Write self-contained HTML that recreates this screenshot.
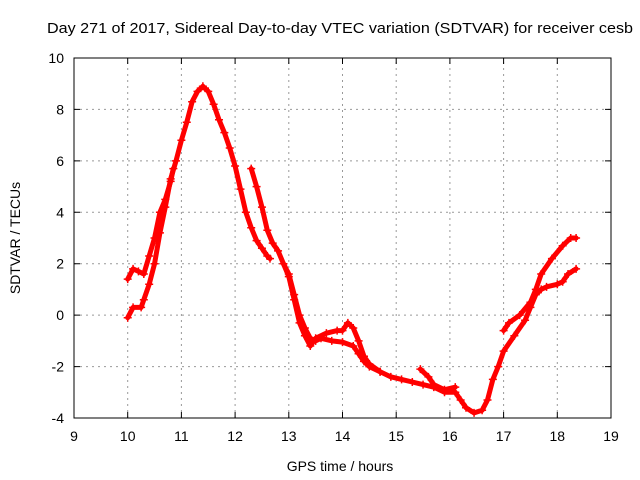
<!DOCTYPE html>
<html><head><meta charset="utf-8"><style>
body{margin:0;background:#fff}
svg{display:block;font-family:"Liberation Sans",sans-serif}
</style></head><body>
<svg id="chart" width="640" height="480">
<text x="47" y="33" font-size="15" textLength="586" lengthAdjust="spacingAndGlyphs">Day 271 of 2017, Sidereal Day-to-day VTEC variation (SDTVAR) for receiver cesb</text>
<text x="340" y="471" text-anchor="middle" font-size="14">GPS time / hours</text>
<text transform="translate(20,238) rotate(-90)" text-anchor="middle" font-size="14">SDTVAR / TECUs</text>
<g id="grid"></g><g id="ticks"></g><g id="series"></g>
<rect x="74" y="58" width="537" height="360" fill="none" stroke="#000" stroke-width="1"/>
</svg>
<script>
const xTicks=[9,10,11,12,13,14,15,16,17,18,19];
const yTicks=[-4,-2,0,2,4,6,8,10];
const segA=[[10.0,-0.1],[10.1,0.3],[10.25,0.3],[10.3,0.6],[10.4,1.2],[10.5,2.0],[10.6,3.2],[10.7,4.2],[10.8,5.3],[10.9,6.0],[11.0,6.8],[11.1,7.5],[11.2,8.3],[11.3,8.7],[11.4,8.9],[11.5,8.7],[11.6,8.2],[11.7,7.6],[11.8,7.1],[11.9,6.5],[12.0,5.8],[12.1,4.9],[12.2,4.0],[12.3,3.4],[12.4,2.9],[12.5,2.6],[12.6,2.3],[12.65,2.2]];
const segB=[[10.0,1.4],[10.1,1.8],[10.2,1.7],[10.3,1.6],[10.4,2.3],[10.5,3.0],[10.6,4.0],[10.7,4.5],[10.8,5.2],[10.85,5.7]];
const segC=[[12.3,5.7],[12.4,5.0],[12.5,4.2],[12.6,3.3],[12.7,2.8],[12.8,2.5],[12.9,2.0],[13.0,1.6],[13.1,0.8],[13.2,0.0],[13.3,-0.5],[13.4,-0.9],[13.5,-1.0],[13.6,-0.9],[13.8,-1.0],[14.0,-1.05],[14.2,-1.2],[14.3,-1.5],[14.4,-1.8],[14.5,-2.0],[14.7,-2.2]];
const segD=[[12.9,2.0],[13.0,1.5],[13.1,0.6],[13.2,-0.3],[13.3,-0.8],[13.4,-1.2],[13.5,-0.9],[13.7,-0.7],[13.9,-0.6],[14.0,-0.6],[14.1,-0.3],[14.2,-0.5],[14.3,-1.0],[14.4,-1.6],[14.5,-1.9],[14.7,-2.2],[14.9,-2.4],[15.1,-2.5],[15.3,-2.6],[15.5,-2.7],[15.7,-2.8],[15.9,-3.0],[16.1,-3.0],[16.2,-3.3],[16.3,-3.6],[16.45,-3.8],[16.6,-3.7],[16.7,-3.3],[16.8,-2.5],[16.9,-2.0],[17.0,-1.4],[17.2,-0.8],[17.4,-0.2],[17.5,0.3],[17.6,0.8],[17.7,1.0],[17.8,1.1],[18.0,1.2],[18.1,1.3],[18.2,1.6],[18.35,1.8]];
const segE=[[17.0,-0.6],[17.1,-0.3],[17.3,0.0],[17.5,0.5],[17.6,1.0],[17.7,1.6],[17.9,2.2],[18.1,2.7],[18.25,3.0],[18.35,3.0]];
const segF=[[15.45,-2.1],[15.6,-2.4],[15.7,-2.7],[15.9,-2.9],[16.1,-2.8]];
const segments=[segA,segB,segC,segD,segE,segF];
const NS="http://www.w3.org/2000/svg";
const X0=74,X1=611,Y0=418,Y1=58;
const xs=h=>X0+(h-9)/10*(X1-X0);
const ys=v=>Y0-(v+4)/14*(Y0-Y1);
const grid=document.getElementById('grid'),ticks=document.getElementById('ticks'),ser=document.getElementById('series');
function mk(tag,attrs,parent){const e=document.createElementNS(NS,tag);for(const k in attrs)e.setAttribute(k,attrs[k]);parent.appendChild(e);return e;}
xTicks.forEach(t=>{const x=xs(t);
 if(t>9&&t<19){const g=mk('line',{x1:x,x2:x,y1:Y0,y2:Y1,stroke:'#999','stroke-dasharray':'2,4'},grid);
 }
 const tk=mk('path',{d:`M${x},${Y0}v-6M${x},${Y1}v6`,stroke:'#000'},ticks);
 
 const l=mk('text',{x:x,y:Y0+23,'text-anchor':'middle','font-size':14},ticks);l.textContent=t;
 });
yTicks.forEach(t=>{const y=ys(t);
 if(t>-4&&t<10){const g=mk('line',{x1:X0,x2:X1,y1:y,y2:y,stroke:'#999','stroke-dasharray':'2,4'},grid);
 }
 const tk=mk('path',{d:`M${X0},${y}h6M${X1},${y}h-6`,stroke:'#000'},ticks);
 
 const l=mk('text',{x:X0-10,y:y+5,'text-anchor':'end','font-size':14},ticks);l.textContent=t;
 });
segments.forEach((s,i)=>{
 const p=mk('polyline',{points:s.map(d=>xs(d[0])+','+ys(d[1])).join(' '),fill:'none',stroke:'#f00','stroke-width':5,'stroke-linejoin':'round','stroke-linecap':'round'},ser);
 
 s.forEach(d=>{const x=xs(d[0]),y=ys(d[1]);
  const m=mk('path',{d:`M${x-4},${y}h8M${x},${y-4}v8`,stroke:'#f00','stroke-width':1.5},ser);
  });
});
</script>
</body></html>
